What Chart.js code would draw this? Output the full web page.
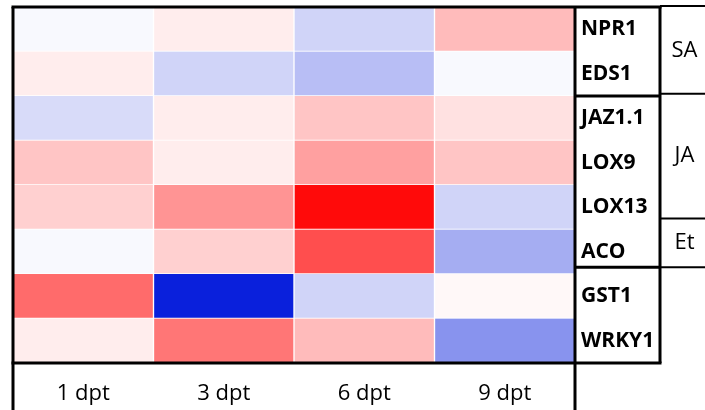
<!DOCTYPE html>
<html>
<head>
<meta charset="utf-8">
<script src="https://cdn.jsdelivr.net/npm/chart.js@4.4.1/dist/chart.umd.min.js"></script>
<style>
  html, body { margin: 0; padding: 0; background: #fff; }
  #wrap { width: 705px; height: 410px; }
</style>
</head>
<body>
<div id="wrap"><canvas id="heat"></canvas></div>
<script>
// ── DATA ──
const timepoints = ['1 dpt', '3 dpt', '6 dpt', '9 dpt'];
const genes = ['NPR1', 'EDS1', 'JAZ1.1', 'LOX9', 'LOX13', 'ACO', 'GST1', 'WRKY1'];

// relative expression (log2 fold change), one value per time point
const npr1  = [-0.11, 0.29, -0.77, 1.11];
const eds1  = [0.29, -0.77, -1.16, -0.11];
const jaz11 = [-0.64, 0.29, 0.95, 0.49];
const lox9  = [0.95, 0.29, 1.55, 0.95];
const lox13 = [0.77, 1.75, 4.0, -0.77];
const aco   = [-0.11, 0.77, 2.89, -1.47];
const gst1  = [2.42, -4.0, -0.77, 0.11];
const wrky1 = [0.29, 2.24, 1.11, -1.94];
const rows = [npr1, eds1, jaz11, lox9, lox13, aco, gst1, wrky1];

// hormone pathway groups, spans in row units
const groups = ['SA', 'JA', 'Et'];
const groupSpans = [[0, 1.95], [1.95, 4.75], [4.75, 5.85]];
const geneBreaks = [2, 5.85];
const limit = 4;

// ── COLOUR SCALE (blue - white - red) ──
function cellColor(v) {
  const t = Math.min(Math.abs(v) / limit, 1);
  if (v >= 0) {
    const c = Math.round(255 - 245 * t);
    return `rgb(255,${c},${c})`;
  }
  return `rgb(${Math.round(255 - 245 * t)},${Math.round(255 - 223 * t)},${Math.round(255 - 35 * t)})`;
}

// ── FRAME / TABLE LINES ──
const framePlugin = {
  id: 'frame',
  afterDraw(chart) {
    const { ctx, chartArea: a, scales: { y } } = chart;
    const W = chart.width, H = chart.height;
    const geneRight = a.right + 85;
    const line = (x1, y1, x2, y2, w) => {
      ctx.lineWidth = w;
      ctx.beginPath();
      ctx.moveTo(x1, y1);
      ctx.lineTo(x2, y2);
      ctx.stroke();
    };
    ctx.save();
    ctx.strokeStyle = '#000';
    line(a.left, a.top, a.left, H, 3);
    line(a.right, a.top, a.right, H, 3);
    line(a.left - 1.5, a.top, geneRight + 1.5, a.top, 3);
    line(a.left - 1.5, a.bottom, geneRight + 1.5, a.bottom, 3);
    line(geneRight, a.top, geneRight, a.bottom, 3);
    geneBreaks.forEach(b => line(a.right, y.getPixelForValue(b), geneRight, y.getPixelForValue(b), 3));

    // group panel
    line(geneRight, a.top - 1, W, a.top - 1, 2);
    ctx.fillStyle = '#000';
    ctx.font = '22px "Open Sans"';
    ctx.textAlign = 'center';
    ctx.textBaseline = 'middle';
    groupSpans.forEach((s, i) => {
      const yb = y.getPixelForValue(s[1]);
      line(geneRight, yb, W, yb, 2);
      const yc = (y.getPixelForValue(s[0]) + yb) / 2;
      ctx.fillText(groups[i], (geneRight + W) / 2 + 2, yc);
    });
    ctx.restore();
  }
};

// ── HEATMAP (stacked unit bars, one dataset per gene) ──
const datasets = rows.map((vals, i) => ({
  label: genes[i],
  data: vals.map(() => 1),
  backgroundColor: vals.map(cellColor),
  borderColor: 'rgba(255,255,255,0.15)',
  borderWidth: 1,
  barPercentage: 1,
  categoryPercentage: 1,
  xAxisID: 'x',
  yAxisID: 'y'
}));

new Chart(document.getElementById('heat'), {
  type: 'bar',
  data: { labels: timepoints, datasets },
  options: {
    responsive: true,
    maintainAspectRatio: false,
    animation: false,
    layout: { padding: { top: 7, left: 13, right: 0, bottom: 0 } },
    plugins: { legend: { display: false }, tooltip: { enabled: false } },
    scales: {
      x: {
        stacked: true,
        grid: { display: false },
        border: { display: false },
        ticks: { color: '#000', font: { family: 'Open Sans', size: 22 }, padding: 10 },
        afterFit: s => { s.height = 47; s.paddingLeft = 0; s.paddingRight = 0; }
      },
      y: {
        stacked: true,
        min: 0, max: 8,
        reverse: true,
        display: false
      },
      y2: {
        type: 'linear',
        min: 0, max: 8,
        reverse: true,
        position: 'right',
        grid: { display: false, drawTicks: false },
        border: { display: false },
        afterBuildTicks: s => { s.ticks = genes.map((g, i) => ({ value: i + 0.5 })); },
        ticks: {
          color: '#000',
          font: { family: 'Open Sans', size: 21, weight: 'bold' },
          padding: 6,
          callback: v => genes[Math.floor(v)]
        },
        afterFit: s => { s.width = 130; s.paddingTop = 0; s.paddingBottom = 0; }
      }
    }
  },
  plugins: [framePlugin]
});
</script>
</body>
</html>
